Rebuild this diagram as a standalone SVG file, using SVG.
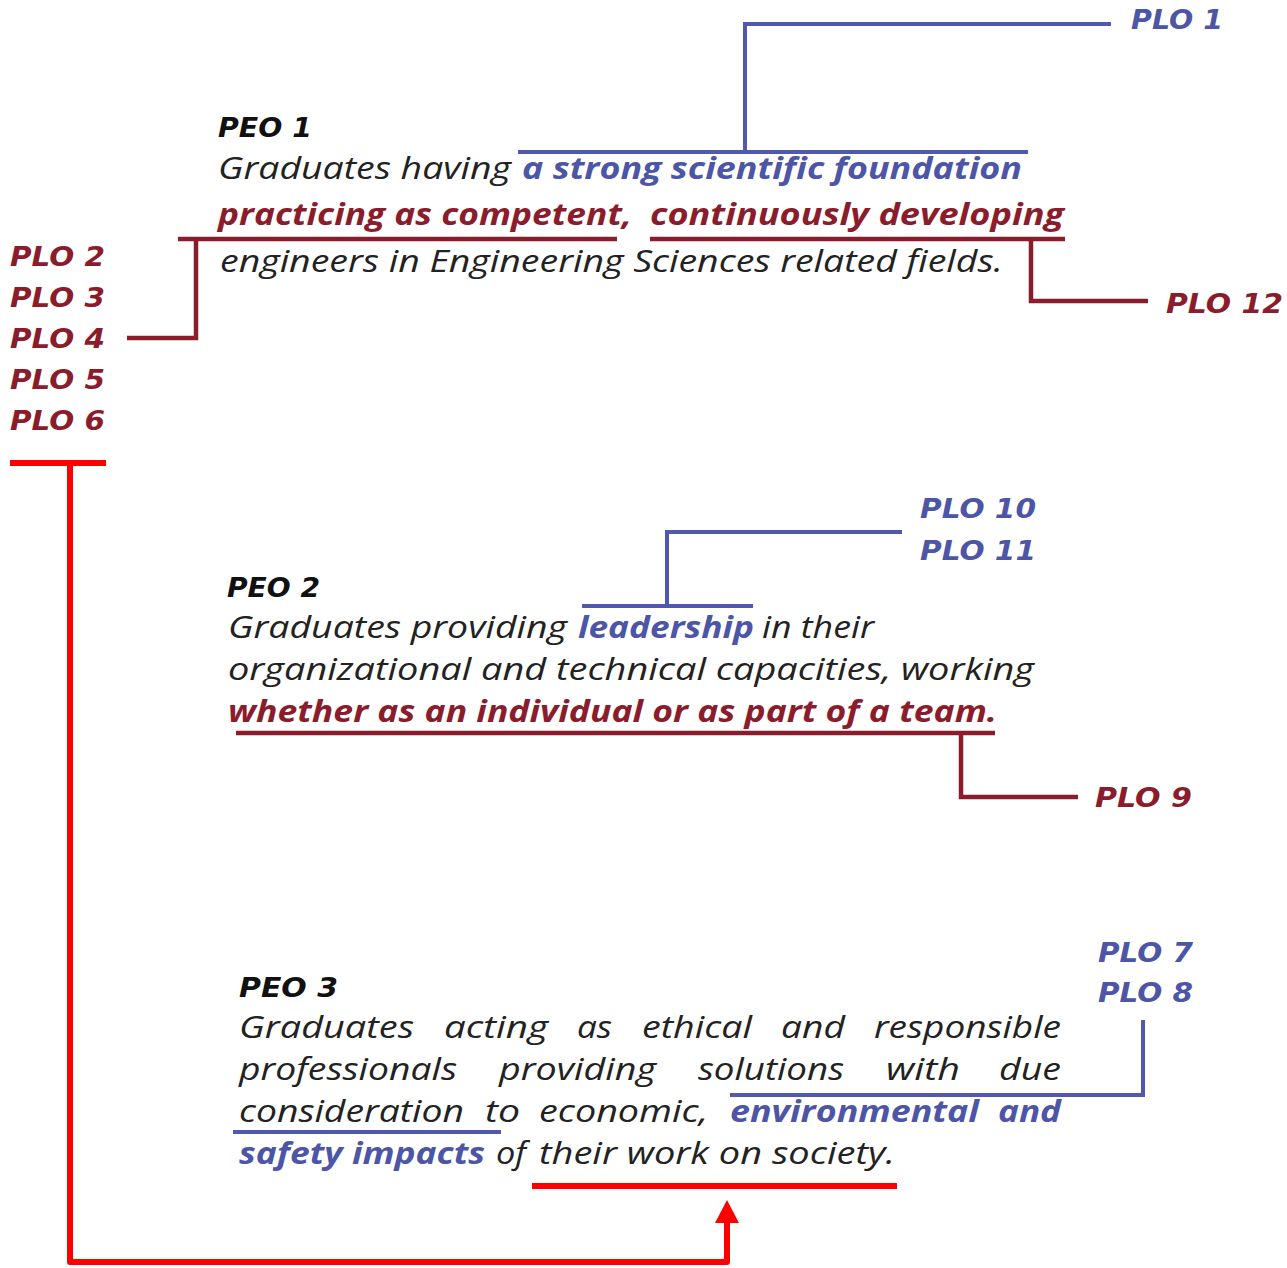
<svg xmlns="http://www.w3.org/2000/svg" width="1287" height="1268" viewBox="0 0 1287 1268">
<style>
text{font-family:"Open Sans","Noto Sans","Liberation Sans",sans-serif;font-style:italic;font-size:31px;fill:#222222}
.b{font-weight:bold}
.blue{fill:#4d55a6}
.dred{fill:#8a1c2c}
.h{font-family:"DejaVu Sans","Liberation Sans",sans-serif;font-weight:bold;font-style:oblique;font-size:26px;fill:#111}
.plo{font-family:"DejaVu Sans","Liberation Sans",sans-serif;font-weight:bold;font-style:oblique;font-size:26px}
.lb{fill:none;stroke:#5058b0;stroke-width:4}
.lr{fill:none;stroke:#8a1c2c;stroke-width:4.5}
.lx{fill:none;stroke:#ff0000;stroke-width:6;stroke-linejoin:round}
</style>
<rect width="1287" height="1268" fill="#ffffff"/>
<g id="connectors">
<path class="lb" d="M518,152 H1028 M745,152 V24 H1111"/>
<path class="lr" d="M178,239 H617 M650,239 H1065 M196,239 V338 H127 M1031,239 V301 H1148"/>
<path class="lb" d="M582,606 H753 M667,606 V532 H902"/>
<path class="lr" d="M236,733 H995 M961,733 V797 H1078"/>
<path class="lb" d="M730,1095 H1145 M1143,1095 V1020 M233,1132 H501"/>
<path class="lx" d="M10,463 H106 M532,1186 H897"/>
<path class="lx" d="M70,463 V1262 H727 V1220"/>
<polygon points="727,1200 715,1223 739,1223" fill="#ff0000"/>
</g>
<g id="peo1">
<text class="h" x="218" y="137" textLength="94" lengthAdjust="spacingAndGlyphs">PEO 1</text>
<text x="218" y="179" textLength="293" lengthAdjust="spacingAndGlyphs">Graduates having</text>
<text class="b blue" x="522" y="179" textLength="500" lengthAdjust="spacingAndGlyphs">a strong scientific foundation</text>
<text class="b dred" x="218" y="225" textLength="414" lengthAdjust="spacingAndGlyphs">practicing as competent,</text>
<text class="b dred" x="650" y="225" textLength="414" lengthAdjust="spacingAndGlyphs">continuously developing</text>
<text x="220" y="272" textLength="783" lengthAdjust="spacingAndGlyphs">engineers in Engineering Sciences related fields.</text>
</g>
<g id="peo2">
<text class="h" x="227" y="597" textLength="93" lengthAdjust="spacingAndGlyphs">PEO 2</text>
<text x="228" y="638" textLength="339" lengthAdjust="spacingAndGlyphs">Graduates providing</text>
<text class="b blue" x="578" y="638" textLength="176" lengthAdjust="spacingAndGlyphs">leadership</text>
<text x="762" y="638" textLength="112" lengthAdjust="spacingAndGlyphs">in their</text>
<text x="228" y="680" textLength="806" lengthAdjust="spacingAndGlyphs">organizational and technical capacities, working</text>
<text class="b dred" x="228" y="722" textLength="769" lengthAdjust="spacingAndGlyphs">whether as an individual or as part of a team.</text>
</g>
<g id="peo3">
<text class="h" x="239" y="997" textLength="99" lengthAdjust="spacingAndGlyphs">PEO 3</text>
<text x="239" y="1038" textLength="175" lengthAdjust="spacingAndGlyphs">Graduates</text>
<text x="444" y="1038" textLength="104" lengthAdjust="spacingAndGlyphs">acting</text>
<text x="577" y="1038" textLength="35" lengthAdjust="spacingAndGlyphs">as</text>
<text x="642" y="1038" textLength="110" lengthAdjust="spacingAndGlyphs">ethical</text>
<text x="781" y="1038" textLength="64" lengthAdjust="spacingAndGlyphs">and</text>
<text x="874" y="1038" textLength="187" lengthAdjust="spacingAndGlyphs">responsible</text>
<text x="239" y="1080" textLength="218" lengthAdjust="spacingAndGlyphs">professionals</text>
<text x="499" y="1080" textLength="157" lengthAdjust="spacingAndGlyphs">providing</text>
<text x="698" y="1080" textLength="146" lengthAdjust="spacingAndGlyphs">solutions</text>
<text x="886" y="1080" textLength="74" lengthAdjust="spacingAndGlyphs">with</text>
<text x="999" y="1080" textLength="62" lengthAdjust="spacingAndGlyphs">due</text>
<text x="239" y="1122" textLength="225" lengthAdjust="spacingAndGlyphs">consideration</text>
<text x="485" y="1122" textLength="35" lengthAdjust="spacingAndGlyphs">to</text>
<text x="539" y="1122" textLength="169" lengthAdjust="spacingAndGlyphs">economic,</text>
<text class="b blue" x="730" y="1122" textLength="249" lengthAdjust="spacingAndGlyphs">environmental</text>
<text class="b blue" x="998" y="1122" textLength="63" lengthAdjust="spacingAndGlyphs">and</text>
<text class="b blue" x="239" y="1164" textLength="246" lengthAdjust="spacingAndGlyphs">safety impacts</text>
<text x="496" y="1164" textLength="30" lengthAdjust="spacingAndGlyphs">of</text>
<text x="539" y="1164" textLength="356" lengthAdjust="spacingAndGlyphs">their work on society.</text>
</g>
<g id="plo1"><text class="plo blue" x="1131" y="29" textLength="92" lengthAdjust="spacingAndGlyphs">PLO 1</text></g>
<g id="plo12"><text class="plo dred" x="1166" y="313" textLength="117" lengthAdjust="spacingAndGlyphs">PLO 12</text></g>
<g id="plo2-6">
<text class="plo dred" x="10" y="266" textLength="95" lengthAdjust="spacingAndGlyphs">PLO 2</text>
<text class="plo dred" x="10" y="307" textLength="95" lengthAdjust="spacingAndGlyphs">PLO 3</text>
<text class="plo dred" x="10" y="348" textLength="95" lengthAdjust="spacingAndGlyphs">PLO 4</text>
<text class="plo dred" x="10" y="389" textLength="95" lengthAdjust="spacingAndGlyphs">PLO 5</text>
<text class="plo dred" x="10" y="430" textLength="95" lengthAdjust="spacingAndGlyphs">PLO 6</text>
</g>
<g id="plo10-11">
<text class="plo blue" x="920" y="518" textLength="116" lengthAdjust="spacingAndGlyphs">PLO 10</text>
<text class="plo blue" x="920" y="560" textLength="116" lengthAdjust="spacingAndGlyphs">PLO 11</text>
</g>
<g id="plo9"><text class="plo dred" x="1095" y="807" textLength="97" lengthAdjust="spacingAndGlyphs">PLO 9</text></g>
<g id="plo7-8">
<text class="plo blue" x="1098" y="962" textLength="95" lengthAdjust="spacingAndGlyphs">PLO 7</text>
<text class="plo blue" x="1098" y="1002" textLength="95" lengthAdjust="spacingAndGlyphs">PLO 8</text>
</g>
</svg>
